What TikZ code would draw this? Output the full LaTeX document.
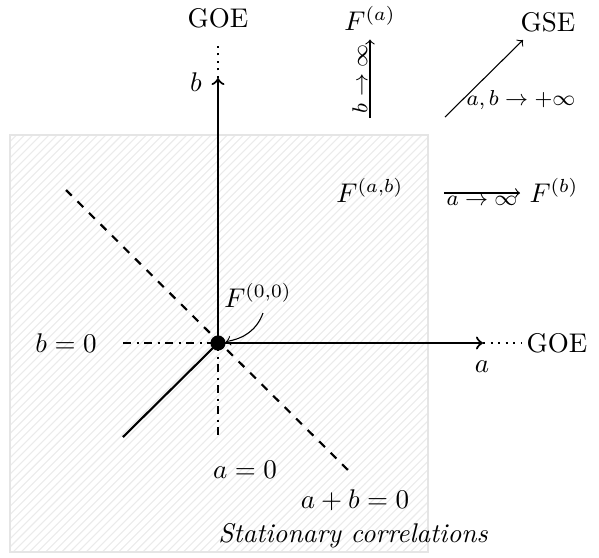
\documentclass[tikz,border=0pt]{standalone}
\usetikzlibrary{patterns}
\begin{document}
\begin{tikzpicture}[x=0.37pt,y=-0.37pt,
  axis/.style={thick},
  limarrow/.style={->},
  limlbl/.style={inner sep=0.8pt, font=\footnotesize}]
\useasboundingbox (0,0) rectangle (599,557);
% shaded square
\path[draw=gray!20, line width=0.6pt, pattern=north east lines, pattern color=gray!16] (10,135) rectangle (428,552);
% coordinates
\coordinate (o) at (218,343);
\coordinate (bt) at (218,78);
\coordinate (bd) at (218,42);
\coordinate (at) at (483,343);
\coordinate (ad) at (522,343);
\coordinate (bz) at (123,343);
\coordinate (az) at (218,437);
\coordinate (d1) at (66,190);
\coordinate (d2) at (350,472);
\coordinate (sw) at (123,437);
% lines
\draw[axis,->] (o) -- (bt);
\draw[thick,dotted] (bt) -- (bd);
\draw[axis,->] (o) -- (at);
\draw[thick,dotted] (at) -- (ad);
\draw[thick,dashdotted] (bz) -- (o);
\draw[thick,dashdotted] (o) -- (az);
\draw[thick,dashed] (d1) -- (d2);
\draw[thick] (o) -- (sw);
\node[circle, fill, inner sep=0pt, minimum size=5.6pt] (dot) at (o) {};
% labels
\node (goet) at (218,18) {GOE};
\node (goer) at (557,343) {GOE};
\node (lb) at (196,82) {$b$};
\node (la) at (482,367) {$a$};
\node (lbz) at (66,343) {$b=0$};
\node (laz) at (245,470) {$a=0$};
\node (lab) at (355,500) {$a+b=0$};
\node (stat) at (353,536) {\itshape Stationary correlations};
\node (f00) at (258,295) {$F^{(0,0)}$};
\draw[->] (263,313) to[out=-110,in=10] (dot);
\node (fab) at (370,190) {$F^{(a,b)}$};
\node (fb) at (554,190) {$F^{(b)}$};
\coordinate (fbs) at (444,193);
\coordinate (fbe) at (520,193);
\draw[limarrow] (fbs) -- (fbe) node[midway, below, limlbl] {$a\to\infty$};
\node (fa) at (370,18) {$F^{(a)}$};
\coordinate (fas) at (370,118);
\draw[limarrow] (fas) -- (fa.south) node[midway, above, sloped, limlbl] {$b\to\infty$};
\node (gse) at (548,22) {GSE};
\coordinate (gss) at (445,117);
\coordinate (gse2) at (523,40);
\draw[limarrow] (gss) -- (gse2);
\node[font=\footnotesize] (labinf) at (521,100) {$a,b\to+\infty$};
\end{tikzpicture}
\end{document}
